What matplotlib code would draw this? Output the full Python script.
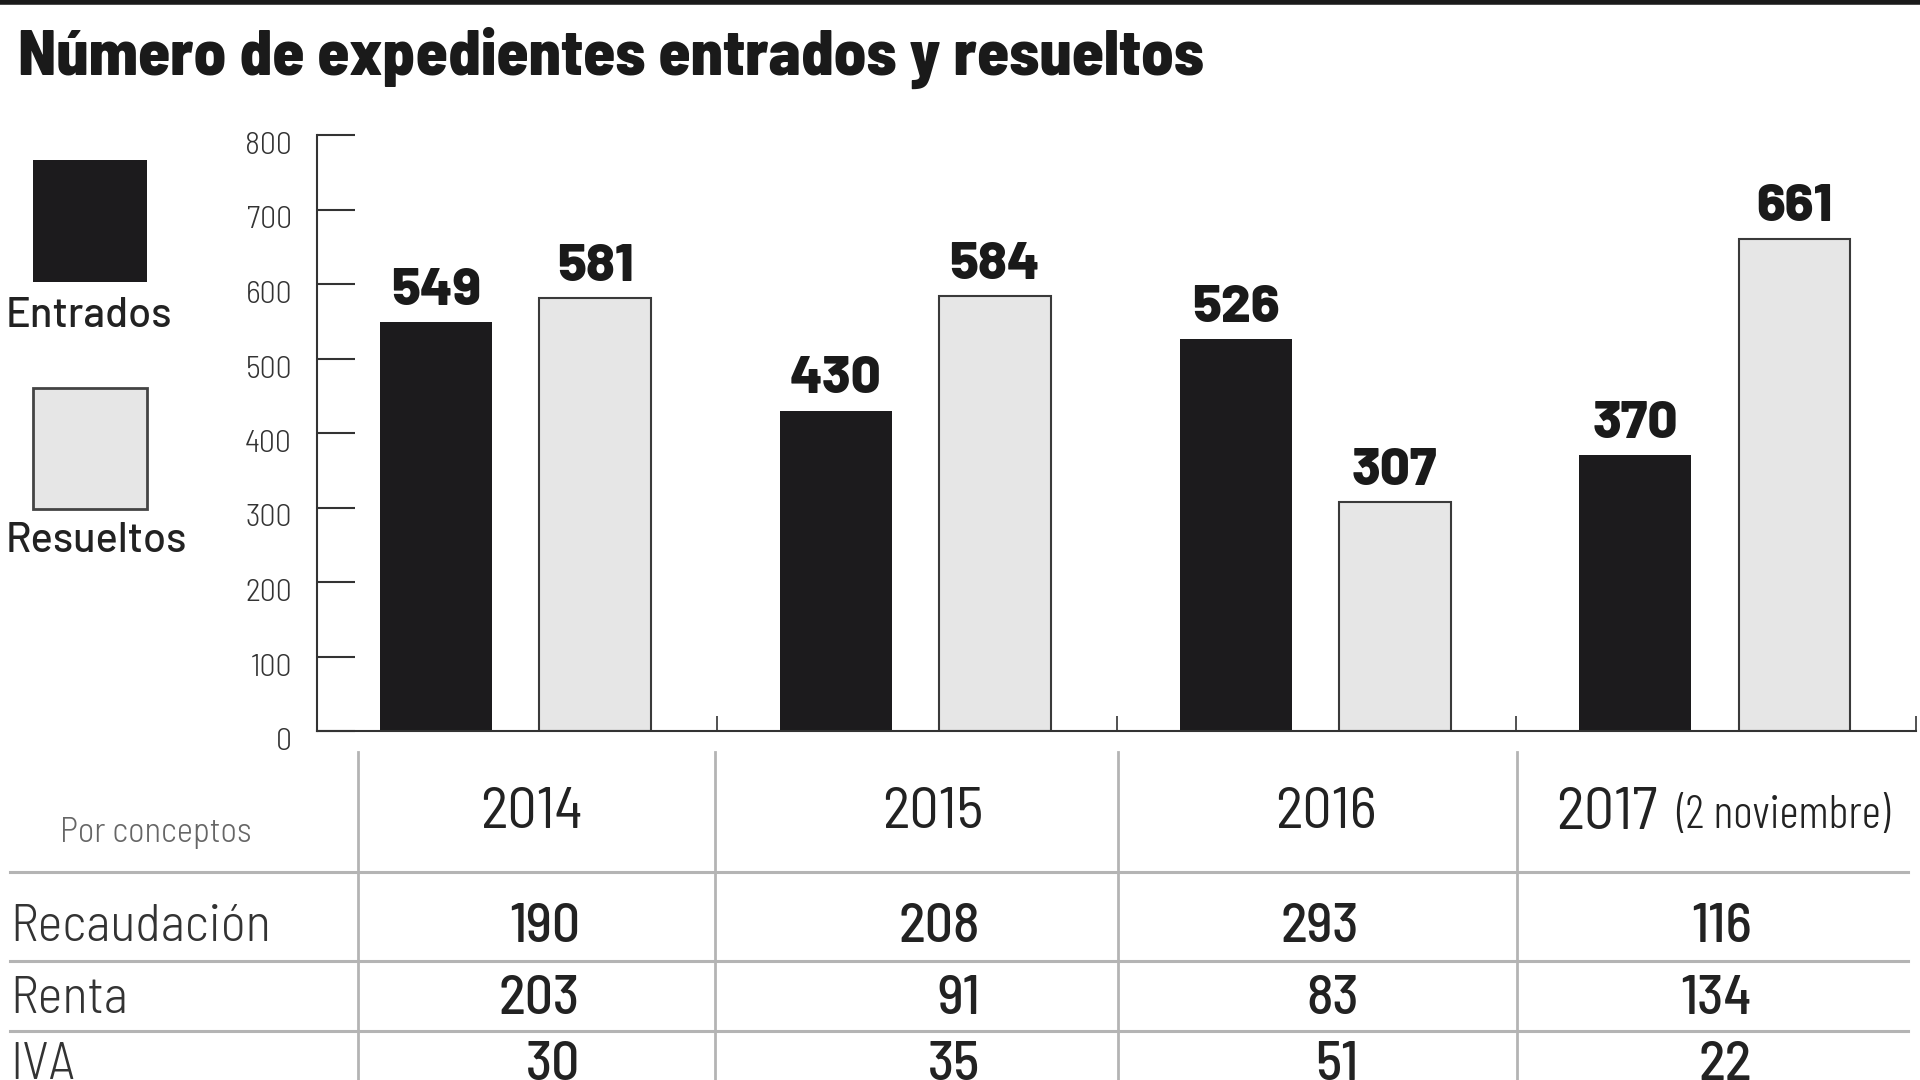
import numpy as np
import matplotlib
matplotlib.use("Agg")
import matplotlib.pyplot as plt
from matplotlib.patches import Rectangle
from matplotlib.transforms import ScaledTranslation

# data
years = ['2014', '2015', '2016', '2017']
entrados = [549, 430, 526, 370]
resueltos = [581, 584, 307, 661]

conceptos = ['Recaudación', 'Renta', 'IVA']
recaudacion = [190, 208, 293, 116]
renta = [203, 91, 83, 134]
iva = [30, 35, 51, 22]

COND = ['Barlow Condensed', 'DejaVu Sans']
SEMI = ['Barlow Semi Condensed', 'Barlow Condensed', 'DejaVu Sans']
WIDE = ['Barlow', 'Roboto', 'DejaVu Sans']
W, H = 1920, 1080

fig = plt.figure(figsize=(19.2, 10.8), dpi=100)
fig.patch.set_facecolor('white')

# overlay in pixel coords for title, legend and table
ov = fig.add_axes([0, 0, 1, 1])
ov.set_xlim(0, W)
ov.set_ylim(H, 0)
ov.axis('off')

ov.plot([0, W], [2, 2], color='#1a1a1a', lw=4)
ov.text(18, 75, 'Número de expedientes entrados y resueltos', family=SEMI, fontstretch='condensed',
        fontsize=46.5, fontweight=800, color='#1a1a1a', va='baseline', ha='left')

# legend
ov.add_patch(Rectangle((33, 160), 114, 122, facecolor='#1c1b1d', edgecolor='none'))
ov.text(6, 316, 'Entrados', family=WIDE, fontsize=30, fontweight=500, color='#222222', va='center', ha='left')
ov.add_patch(Rectangle((33, 388), 114, 121, facecolor='#e6e6e6', edgecolor='#444444', lw=2))
ov.text(6, 541, 'Resueltos', family=WIDE, fontsize=30, fontweight=500, color='#222222', va='center', ha='left')

# table
grid_c = '#b4b4b4'
for x in [358, 715, 1118, 1517]:
    ov.plot([x, x], [752, H], color=grid_c, lw=2)
for y in [872, 961, 1031]:
    ov.plot([10, 1908], [y, y], color=grid_c, lw=2.2)

ov.text(156, 833, 'Por conceptos', family=SEMI, fontstretch='condensed', fontsize=25, fontweight=300,
        color='#666666', ha='center', va='center')
year_x = [531, 933, 1326]
for x, yr in zip(year_x, years[:3]):
    ov.text(x, 814, yr, family=SEMI, fontstretch='condensed', fontsize=42, fontweight=400,
            color='#222222', ha='center', va='center')
ov.text(1556, 814, years[3], family=SEMI, fontstretch='condensed', fontsize=43, fontweight=400,
        color='#222222', ha='left', va='center')
ov.text(1676, 816, '(2 noviembre)', family=COND, fontstretch='condensed', fontsize=34, fontweight=300,
        color='#222222', ha='left', va='center')

row_y = [928, 1000, 1066]
val_x = [580, 980, 1359, 1752]
for y, name, vals in zip(row_y, conceptos, [recaudacion, renta, iva]):
    ov.text(10, y, name, family=SEMI, fontstretch='condensed', fontsize=38, fontweight=300,
            color='#333333', ha='left', va='center')
    for x, v in zip(val_x, vals):
        ov.text(x, y, str(v), family=SEMI, fontstretch='condensed', fontsize=40, fontweight=500,
                color='#222222', ha='right', va='center')

# bar chart
ax = fig.add_axes([317 / W, 1 - 731 / H, (1916 - 317) / W, (731 - 135) / H])
ax.patch.set_alpha(0)
idx = np.arange(len(years))
b1 = ax.bar(idx + 0.298, entrados, width=0.28, color='#1c1b1d', edgecolor='none')
b2 = ax.bar(idx + 0.696, resueltos, width=0.28, color='#e6e6e6', edgecolor='#3a3a3a', lw=1.5)
for bars in (b1, b2):
    ax.bar_label(bars, padding=6, family=WIDE, fontsize=38, fontweight=800, color='#1a1a1a')

ax.set_xlim(0, 4)
ax.set_ylim(0, 800)
ax.set_yticks(range(0, 801, 100))
ax.set_xticks([1, 2, 3, 4])
ax.set_xticklabels([])
for s in ['top', 'right']:
    ax.spines[s].set_visible(False)
for s in ['left', 'bottom']:
    ax.spines[s].set_color('#333333')
    ax.spines[s].set_linewidth(1.5)
ax.tick_params(axis='y', direction='in', length=27, width=1.5, color='#333333',
               pad=18, labelsize=23, labelcolor='#333333')
ax.tick_params(axis='x', direction='in', length=11, width=1.2, color='#333333')
shift = ScaledTranslation(0, -0.08, fig.dpi_scale_trans)
for tick in ax.yaxis.get_major_ticks():
    lab = tick.label1
    lab.set_family(SEMI)
    lab.set_fontstretch('condensed')
    lab.set_fontweight(300)
    lab.set_transform(lab.get_transform() + shift)

fig.savefig('out.png', dpi=100, facecolor='white')
